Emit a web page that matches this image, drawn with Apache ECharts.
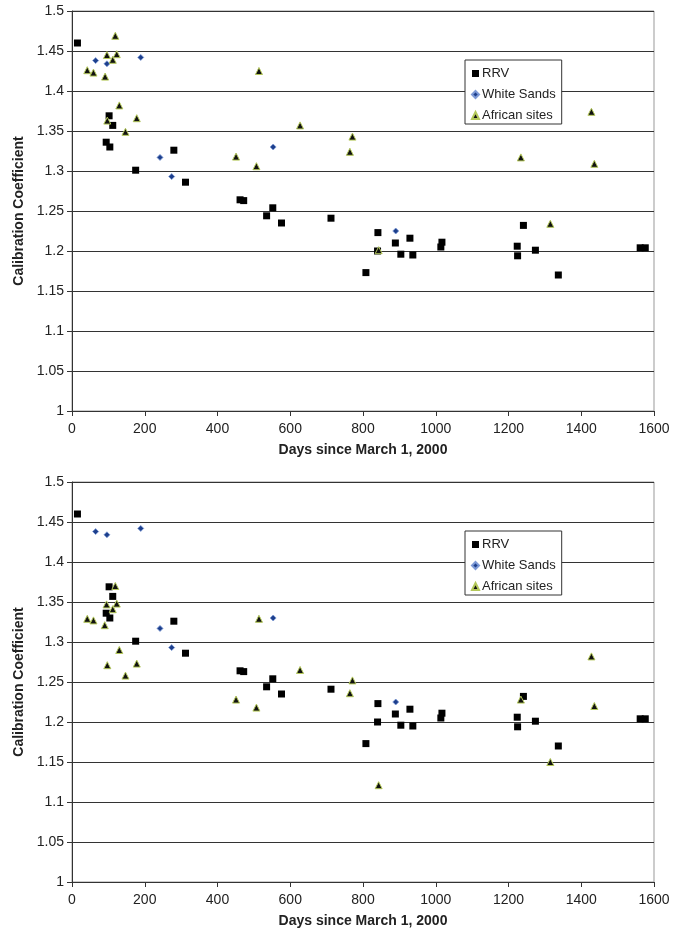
<!DOCTYPE html>
<html>
<head>
<meta charset="utf-8">
<script src="https://cdn.jsdelivr.net/npm/echarts@6/dist/echarts.min.js"></script>
<style>
  html, body { margin: 0; padding: 0; background: #fff; }
  #chart { width: 684px; height: 930px; }
</style>
</head>
<body>
<div id="chart"></div>
<script>
// [days since March 1 2000, calibration coefficient]
const rrvPoints = [
  [15, 1.46], [102, 1.369], [112, 1.357], [94, 1.336], [104, 1.33], [175, 1.301],
  [280, 1.326], [312, 1.286], [462, 1.264], [472, 1.263], [535, 1.244], [552, 1.254],
  [576, 1.235], [712, 1.241], [841, 1.223], [808, 1.173], [840, 1.2], [889, 1.21],
  [904, 1.196], [929, 1.216], [937, 1.195], [1014, 1.205], [1017, 1.211], [1224, 1.206],
  [1225, 1.194], [1241, 1.232], [1274, 1.201], [1337, 1.17], [1562, 1.204], [1576, 1.204]
];
const whiteSandsPoints = [
  [65, 1.438], [96, 1.434], [189, 1.442], [242, 1.317], [274, 1.293], [553, 1.33], [890, 1.225]
];
const africanTopPoints = [
  [42, 1.426], [59, 1.423], [91, 1.418], [96, 1.445], [112, 1.439], [119, 1.469],
  [123, 1.446], [97, 1.363], [130, 1.382], [147, 1.349], [178, 1.366], [451, 1.318],
  [507, 1.306], [514, 1.425], [627, 1.357], [771, 1.343], [764, 1.324], [1234, 1.317],
  [1428, 1.374], [1436, 1.309], [1315, 1.234], [843, 1.201]
];
const africanBottomPoints = [
  [42, 1.329], [59, 1.327], [90, 1.321], [95, 1.347], [112, 1.341], [119, 1.37],
  [123, 1.348], [97, 1.271], [130, 1.29], [147, 1.258], [178, 1.273], [451, 1.228],
  [507, 1.218], [514, 1.329], [627, 1.265], [771, 1.252], [764, 1.236], [1234, 1.228],
  [1428, 1.282], [1436, 1.22], [1315, 1.15], [843, 1.121]
];
const seriesNames = ['RRV', 'White Sands', 'African sites'];
const xTitle = 'Days since March 1, 2000';
const yTitle = 'Calibration Coefficient';

const font = 'Liberation Sans, Arial, sans-serif';
const textColor = '#222';

const rrvStyle = { symbol: 'rect', symbolSize: 7, itemStyle: { color: '#000', opacity: 1 } };
const wsStyle = { symbol: 'diamond', symbolSize: 6, itemStyle: { color: '#1d3f8c', borderColor: '#7d9ad6', borderWidth: 0.8, opacity: 1 } };
const afStyle = { symbol: 'triangle', symbolSize: 7, itemStyle: { color: '#111', borderColor: '#b4c85a', borderWidth: 1, opacity: 1 } };

const grids = [
  { left: 72, top: 11, width: 582, height: 400 },
  { left: 72, top: 482, width: 582, height: 400 }
];

const makeX = (i) => ({
  type: 'value', gridIndex: i, min: 0, max: 1600, interval: 200,
  name: xTitle, nameLocation: 'middle', nameGap: 32,
  nameTextStyle: { fontFamily: font, fontSize: 14, fontWeight: 'bold', color: textColor },
  axisLine: { lineStyle: { color: '#333', width: 1 } },
  axisTick: { show: true, length: 5, lineStyle: { color: '#333' } },
  axisLabel: { fontFamily: font, fontSize: 14, color: textColor, margin: 11,
    formatter: (v) => String(v) },
  splitLine: { show: false }
});

const makeY = (i) => ({
  type: 'value', gridIndex: i, min: 1, max: 1.5, interval: 0.05,
  name: yTitle, nameLocation: 'middle', nameGap: 43,
  nameTextStyle: { fontFamily: font, fontSize: 14, fontWeight: 'bold', color: textColor },
  axisLine: { show: true, lineStyle: { color: '#333', width: 1 } },
  axisTick: { show: true, length: 5, lineStyle: { color: '#333' } },
  axisLabel: { fontFamily: font, fontSize: 14, color: textColor, margin: 8,
    formatter: (v) => String(+v.toFixed(2)) },
  splitLine: { show: true, lineStyle: { color: '#333', width: 1 } }
});

const makeLegend = (top) => ({
  orient: 'vertical', left: 465, top: top,
  data: [
    { name: 'RRV', icon: 'rect' },
    { name: 'White Sands', icon: 'diamond' },
    { name: 'African sites', icon: 'triangle' }
  ],
  itemWidth: 7, itemHeight: 7, itemGap: 8,
  padding: [7, 6, 2, 6],
  borderColor: '#333', borderWidth: 1, backgroundColor: '#fff',
  textStyle: { fontFamily: font, fontSize: 13, color: textColor, padding: [0, 0, 0, -2] },
  selectedMode: false
});

const chart = echarts.init(document.getElementById('chart'));
chart.setOption({
  animation: false,
  backgroundColor: '#fff',
  grid: grids.map(g => Object.assign({ show: true, borderColor: '#999', borderWidth: 1 }, g)),
  xAxis: [makeX(0), makeX(1)],
  yAxis: [makeY(0), makeY(1)],
  legend: [makeLegend(60), makeLegend(531)],
  series: [
    Object.assign({ type: 'scatter', name: seriesNames[0], xAxisIndex: 0, yAxisIndex: 0, data: rrvPoints }, rrvStyle),
    Object.assign({ type: 'scatter', name: seriesNames[1], xAxisIndex: 0, yAxisIndex: 0, data: whiteSandsPoints }, wsStyle),
    Object.assign({ type: 'scatter', name: seriesNames[2], xAxisIndex: 0, yAxisIndex: 0, data: africanTopPoints }, afStyle),
    Object.assign({ type: 'scatter', name: seriesNames[0], xAxisIndex: 1, yAxisIndex: 1, data: rrvPoints }, rrvStyle),
    Object.assign({ type: 'scatter', name: seriesNames[1], xAxisIndex: 1, yAxisIndex: 1, data: whiteSandsPoints }, wsStyle),
    Object.assign({ type: 'scatter', name: seriesNames[2], xAxisIndex: 1, yAxisIndex: 1, data: africanBottomPoints }, afStyle)
  ]
});
</script>
</body>
</html>
